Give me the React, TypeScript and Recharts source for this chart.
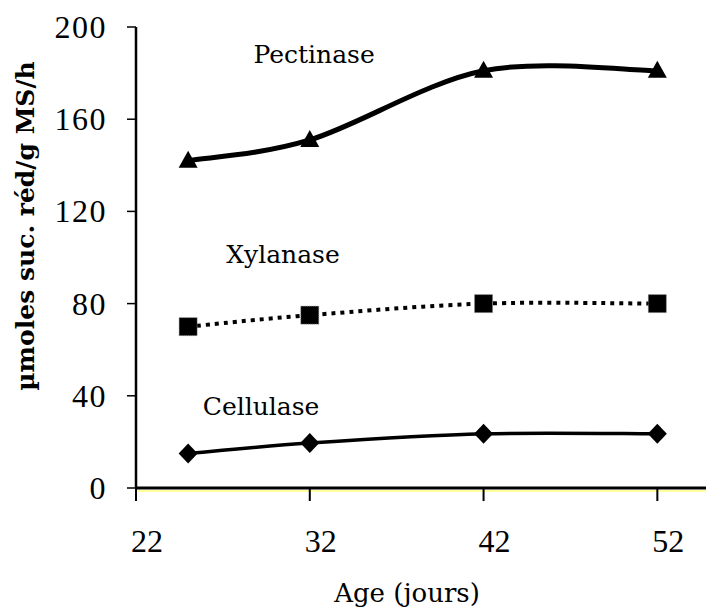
import React from 'react';
import { LineChart, Line, XAxis, YAxis, ReferenceDot, ReferenceLine, Label } from 'recharts';

const ages = [25, 32, 42, 52];
const pectinase = [142, 151, 181, 181];
const xylanase = [70, 75, 80, 80];
const cellulase = [15, 19.5, 23.5, 23.5];
const xTicks = [22, 32, 42, 52];
const yTicks = [0, 40, 80, 120, 160, 200];
const annotations = [
  { name: 'Pectinase', age: 32.25, value: 184.4 },
  { name: 'Xylanase', age: 30.46, value: 97.6 },
  { name: 'Cellulase', age: 29.2, value: 31.7 },
];

const data = ages.map((a, i) => ({
  age: a,
  pectinase: pectinase[i],
  xylanase: xylanase[i],
  cellulase: cellulase[i],
}));

const TIMES = "'Liberation Serif', 'Times New Roman', serif";
const BOOK = "'DejaVu Serif', serif";

// Catmull-Rom style smoothing (like a spreadsheet's smoothed line)
const smoothCurve: any = (context: any) => {
  let pts: number[][] = [];
  return {
    areaStart() {},
    areaEnd() {},
    lineStart() {
      pts = [];
    },
    point(x: number, y: number) {
      pts.push([+x, +y]);
    },
    lineEnd() {
      const n = pts.length;
      if (!n) return;
      context.moveTo(pts[0][0], pts[0][1]);
      for (let i = 0; i < n - 1; i++) {
        const p0 = pts[i - 1] || pts[i];
        const p1 = pts[i];
        const p2 = pts[i + 1];
        const p3 = pts[i + 2] || p2;
        const c1x = p1[0] + (p2[0] - p0[0]) / 6;
        const c1y = p1[1] + (p2[1] - p0[1]) / 6;
        const c2x = p2[0] - (p3[0] - p1[0]) / 6;
        const c2y = p2[1] - (p3[1] - p1[1]) / 6;
        context.bezierCurveTo(c1x, c1y, c2x, c2y, p2[0], p2[1]);
      }
    },
  };
};

const Triangle = (p: any) => {
  const { cx, cy } = p;
  if (cx == null || cy == null) return null;
  return <path d={`M${cx},${cy - 10} L${cx + 9.5},${cy + 7} L${cx - 9.5},${cy + 7} Z`} fill="#000" />;
};
const Square = (p: any) => {
  const { cx, cy } = p;
  if (cx == null || cy == null) return null;
  return <rect x={cx - 9} y={cy - 9} width={18} height={18} fill="#000" stroke="#888" strokeWidth={0.8} strokeDasharray="1 1" />;
};
const Diamond = (p: any) => {
  const { cx, cy } = p;
  if (cx == null || cy == null) return null;
  return <path d={`M${cx},${cy - 10} L${cx + 9.5},${cy} L${cx},${cy + 10} L${cx - 9.5},${cy} Z`} fill="#000" />;
};

const XTick = (p: any) => {
  const { x, payload } = p;
  return (
    <text x={x + 11} y={552} textAnchor="middle" fontFamily={TIMES} fontSize={32} fill="#000">
      {payload.value}
    </text>
  );
};

const YTick = (p: any) => {
  const { x, y, payload } = p;
  return (
    <text x={x} y={y + 11} textAnchor="end" fontFamily={TIMES} fontSize={32} fill="#000" letterSpacing={1.5}>
      {payload.value}
    </text>
  );
};

export default function App() {
  return (
    <div style={{ position: 'absolute', left: 0, top: 0, background: '#fff' }}>
      <LineChart width={706} height={615} data={data} margin={{ top: 27, right: 0, bottom: 0, left: 0 }}>
        <XAxis
          type="number"
          dataKey="age"
          domain={[22, 54.8]}
          ticks={xTicks}
          height={127}
          stroke="#000"
          strokeWidth={3}
          tickSize={13}
          tickLine={{ stroke: '#000', strokeWidth: 2 }}
          tick={<XTick />}
        >
          <Label
            content={() => (
              <text x={407} y={602} textAnchor="middle" fontFamily={BOOK} fontSize={26} fill="#000">
                Age (jours)
              </text>
            )}
          />
        </XAxis>
        <YAxis
          domain={[0, 200]}
          ticks={yTicks}
          width={136}
          stroke="#000"
          strokeWidth={2.5}
          tickSize={9}
          tickMargin={20}
          tickLine={{ stroke: '#000', strokeWidth: 1.5 }}
          tick={<YTick />}
        >
          <Label
            content={() => (
              <text
                x={25}
                y={226}
                transform="rotate(-90, 25, 226)"
                textAnchor="middle"
                dominantBaseline="central"
                fontFamily={BOOK}
                fontWeight="bold"
                fontSize={25}
                fill="#000"
              >
                µmoles suc. réd/g MS/h
              </text>
            )}
          />
        </YAxis>
        <ReferenceLine y={-1.3} stroke="#ffff80" strokeWidth={1.5} ifOverflow="visible" />
        <Line
          type={smoothCurve}
          dataKey="pectinase"
          stroke="#000"
          strokeWidth={5}
          dot={<Triangle />}
          activeDot={false}
          isAnimationActive={false}
        />
        <Line
          type={smoothCurve}
          dataKey="xylanase"
          stroke="#000"
          strokeWidth={4}
          strokeDasharray="4 5"
          dot={<Square />}
          activeDot={false}
          isAnimationActive={false}
        />
        <Line
          type={smoothCurve}
          dataKey="cellulase"
          stroke="#000"
          strokeWidth={3.5}
          dot={<Diamond />}
          activeDot={false}
          isAnimationActive={false}
        />
        {annotations.map((a) => (
          <ReferenceDot
            key={a.name}
            x={a.age}
            y={a.value}
            r={0}
            fill="none"
            stroke="none"
            ifOverflow="visible"
            label={{
              content: (props: any) => {
                const vb = props.viewBox || {};
                return (
                  <text x={vb.x} y={vb.y} textAnchor="middle" fontFamily={BOOK} fontSize={25} fill="#000">
                    {a.name}
                  </text>
                );
              },
            }}
          />
        ))}
      </LineChart>
    </div>
  );
}
